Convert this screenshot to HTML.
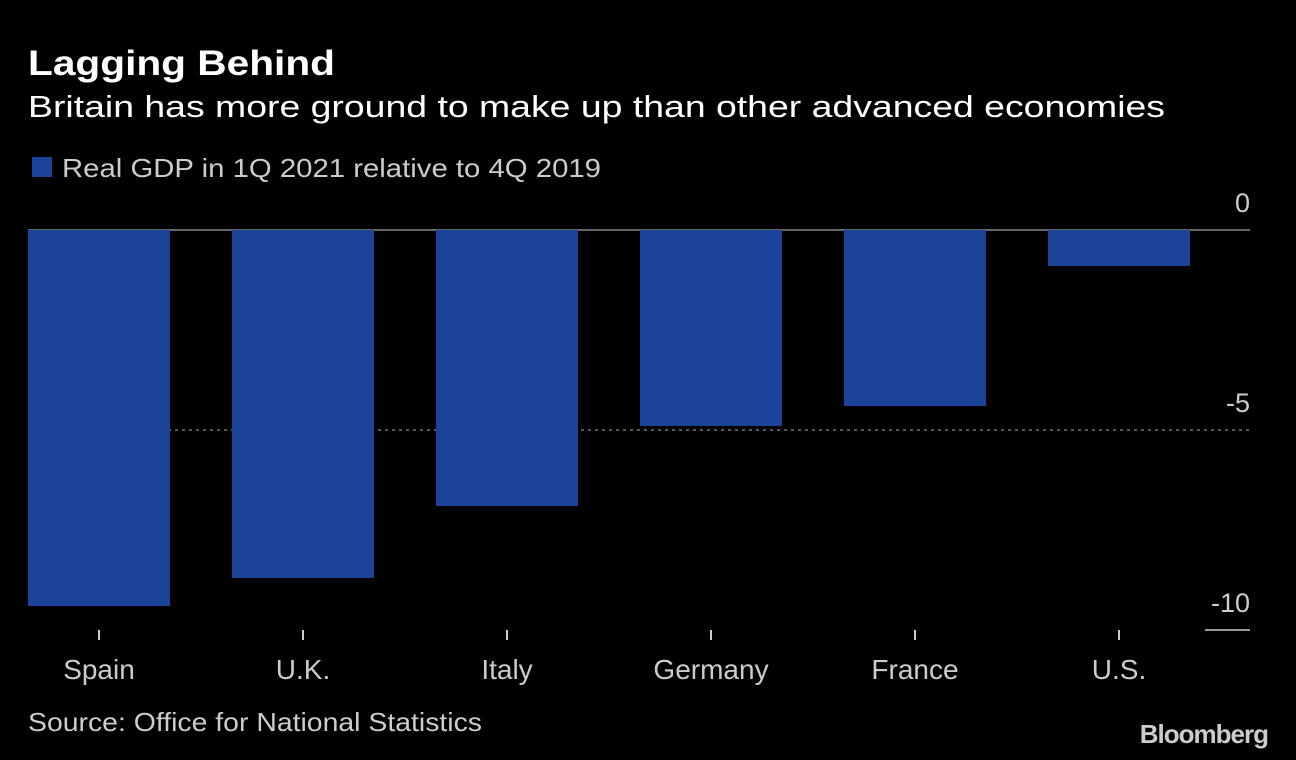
<!DOCTYPE html>
<html><head><meta charset="utf-8"><style>
body{margin:0;background:#000;width:1296px;height:760px;overflow:hidden;font-family:"Liberation Sans",sans-serif;color:#fff}
</style></head><body>
<svg width="1296" height="760" style="position:absolute;left:0;top:0">
<text x="28" y="75" font-size="35" font-weight="bold" fill="#fff" textLength="307" lengthAdjust="spacingAndGlyphs">Lagging Behind</text>
<text x="28" y="117" font-size="31" fill="#fff" textLength="1137" lengthAdjust="spacingAndGlyphs">Britain has more ground to make up than other advanced economies</text>
<rect x="32" y="157" width="20" height="20" fill="#1b4399"/>
<text x="62" y="177" font-size="26" fill="#ccc" textLength="539" lengthAdjust="spacingAndGlyphs">Real GDP in 1Q 2021 relative to 4Q 2019</text>
<g id="plot"></g>
<text x="28" y="731" font-size="26" fill="#ccc" textLength="454" lengthAdjust="spacingAndGlyphs">Source: Office for National Statistics</text>
<text x="1268" y="743" font-size="26" font-weight="bold" fill="#ccc" text-anchor="end" letter-spacing="-1">Bloomberg</text>
</svg>
<script>
const categories=["Spain","U.K.","Italy","Germany","France","U.S."];
const values=[-9.4,-8.7,-6.9,-4.9,-4.4,-0.9];
const tickValues=[0,-5,-10];
const tickLabels=["0","-5","-10"];
const ns="http://www.w3.org/2000/svg";
const g=document.getElementById("plot");
const y=v=>230-v*40;
const xStart=28,step=204,bw=142;
const x=i=>xStart+i*step;
function mk(t,a){const e=document.createElementNS(ns,t);for(const k in a)e.setAttribute(k,a[k]);g.appendChild(e);return e;}
tickValues.forEach((v,i)=>{
  let l;
  if(v===0){l=mk("line",{x1:28,x2:1250,y1:y(v),y2:y(v),stroke:"#888","stroke-width":1.5});}
  else if(i===tickValues.length-1){l=mk("line",{x1:1205,x2:1250,y1:y(v),y2:y(v),stroke:"#ccc","stroke-width":1.5});}
  else{l=mk("line",{x1:28,x2:1250,y1:y(v),y2:y(v),stroke:"#777","stroke-width":1.5,"stroke-dasharray":"3,4"});}
  
  
  const t=mk("text",{x:1250,y:y(v)-18,"font-size":27,fill:"#ccc","text-anchor":"end"});
  t.textContent=tickLabels[i];
  
  
});
categories.forEach((c,i)=>{
  const top=Math.min(y(0),y(values[i])),h=Math.abs(y(values[i])-y(0));
  const r=mk("rect",{x:x(i),y:top,width:bw,height:h,fill:"#1b4399"});
  
  
  const cx=x(i)+bw/2;
  const tk=mk("line",{x1:cx,x2:cx,y1:630,y2:640,stroke:"#ccc","stroke-width":2});
  
  
  const t=mk("text",{x:cx,y:679,"font-size":28,fill:"#ccc","text-anchor":"middle"});
  t.textContent=c;
  
  
});
</script>
</body></html>
